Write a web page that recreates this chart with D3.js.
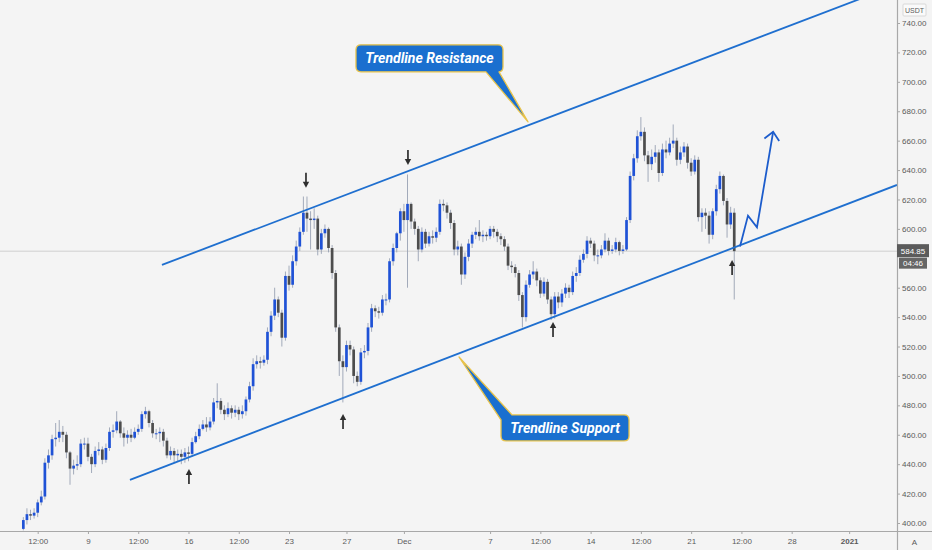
<!DOCTYPE html>
<html>
<head>
<meta charset="utf-8">
<script src="https://cdn.jsdelivr.net/npm/d3@7"></script>
<style>
body { margin: 0; background: #f4f4f4; }
svg { display: block; font-family: "Liberation Sans", Arial, sans-serif; }
</style>
</head>
<body>
<script>
// 6h candles, first one opens Nov 4 12:00 UTC
var candleStart = Date.UTC(2020, 10, 4, 12);
var candleStep = 6 * 3600 * 1000;
var firstOpen = 396;

var closes = [
  402,406,405,407,414,418,441,446,457,458,
  462,460,448,437,439,440,454,454,445,440,
  449,450,443,451,462,463,469,461,458,460,
  458,462,464,474,476,468,461,461,462,456,
  446,449,446,447,445,448,447,455,459,464,
  467,465,469,482,483,477,474,478,475,477,
  474,476,484,493,508,510,509,511,530,541,
  552,543,526,568,562,578,588,598,611,607,
  606,607,586,597,600,587,570,533,510,506,
  521,518,500,496,516,517,533,546,544,543,
  552,552,578,587,597,612,606,617,605,600,
  586,598,590,595,594,598,617,616,611,604,
  586,588,569,581,590,596,598,595,596,595,
  600,598,595,593,588,575,574,570,555,540,
  562,569,571,565,556,564,552,542,554,550,
  556,560,557,568,570,579,583,592,590,582,
  582,586,592,585,586,591,585,586,606,636,
  648,663,666,650,644,649,652,638,654,652,
  658,660,647,652,656,645,639,647,608,611,
  609,596,612,627,636,619,603,611,584.85
];
var highs = [
  404,410,409,410,416,422,444,450,460,468,
  470,466,462,449,443,446,457,458,458,447,
  452,455,452,454,465,467,476,470,465,463,
  464,465,467,476,479,477,470,464,465,464,
  458,452,451,450,450,451,452,458,462,467,
  470,472,472,485,495,485,480,482,480,480,
  479,480,486,496,512,514,513,514,533,544,
  560,554,545,571,575,582,592,601,622,622,
  612,614,609,600,603,601,589,572,535,514,
  524,524,520,503,519,521,536,549,548,547,
  555,556,580,590,598,614,617,637,618,607,
  602,601,600,598,599,601,620,620,618,613,
  606,592,590,584,593,598,601,606,599,598,
  602,602,600,597,595,590,578,576,572,557,
  565,572,578,573,567,567,566,554,557,557,
  559,563,562,571,574,582,586,595,594,592,
  586,589,597,594,589,594,592,589,608,639,
  651,667,676,669,653,654,657,654,658,660,
  662,671,662,656,659,658,648,650,649,614,
  614,612,614,630,639,637,621,615,614
];
var lows = [
  395,399,402,403,404,412,416,437,443,452,
  455,455,444,426,433,436,438,450,442,434,
  438,446,440,441,449,458,461,458,452,454,
  455,457,460,462,471,465,458,457,455,452,
  444,443,441,442,440,441,442,445,454,457,
  463,462,463,467,478,474,470,472,471,472,
  470,471,473,482,490,505,505,507,508,527,
  538,540,520,524,558,560,575,585,596,598,
  586,600,582,583,594,584,566,530,500,482,
  503,514,495,493,494,512,514,530,540,539,
  541,548,550,575,584,592,598,560,600,596,
  578,584,587,588,590,591,596,612,607,600,
  582,582,562,566,578,587,593,592,591,592,
  593,594,591,589,585,572,570,567,551,533,
  537,560,566,561,553,554,549,538,539,546,
  547,553,553,555,564,568,577,580,587,578,
  576,580,584,582,583,584,582,583,585,604,
  633,645,660,646,632,640,645,632,636,648,
  650,655,643,644,649,641,636,637,605,598,
  600,590,593,609,624,616,594,600,552
];

var lastPrice = 584.85;
var lastTimer = "04:46";

// axis ticks (580 sits under the last-price tag, so it is not labelled)
var yTicks = [400,420,440,460,480,500,520,540,560,600,620,640,660,680,700,720,740];
var xTickDates = [
  Date.UTC(2020,10,5,12), Date.UTC(2020,10,9), Date.UTC(2020,10,12,12), Date.UTC(2020,10,16),
  Date.UTC(2020,10,19,12), Date.UTC(2020,10,23), Date.UTC(2020,10,27), Date.UTC(2020,11,1),
  Date.UTC(2020,11,7), Date.UTC(2020,11,10,12), Date.UTC(2020,11,14), Date.UTC(2020,11,17,12),
  Date.UTC(2020,11,21), Date.UTC(2020,11,24,12), Date.UTC(2020,11,28), Date.UTC(2021,0,1)
];
var xTickLabels = ["12:00","9","12:00","16","12:00","23","27","Dec","7","12:00","14","12:00","21","12:00","28","2021"];

// trendlines: [start, end] in time / price
var resistDates = [Date.UTC(2020,10,14,3,40), Date.UTC(2021,0,2,14,20)];
var resistPrices = [575.5, 759.5];
var supportDates = [Date.UTC(2020,10,11,22,10), Date.UTC(2021,0,4,8)];
var supportPrices = [429.3, 629.9];

// projected move
var projDates = [Date.UTC(2020,11,24,9,40), Date.UTC(2020,11,24,23), Date.UTC(2020,11,25,14), Date.UTC(2020,11,26,17)];
var projPrices = [588, 609, 601, 666];

// touch markers (tip position)
var markDates = [Date.UTC(2020,10,24,4,20), Date.UTC(2020,11,1,6,45), Date.UTC(2020,10,16,0,45),
                 Date.UTC(2020,10,26,18,15), Date.UTC(2020,11,11,9,10), Date.UTC(2020,11,23,20,25)];
var markPrices = [627.9, 643.5, 436.7, 474.1, 536.7, 578.9];
var markDirs = ["down","down","up","up","up","up"];

// callouts: tail tip position
var calloutText = ["Trendline Resistance", "Trendline Support"];
var calloutDates = [Date.UTC(2020,11,9,15,20), Date.UTC(2020,11,4,20,5)];
var calloutPrices = [672.8, 512.9];

var w = 932, h = 550, plotW = 897, plotH = 531;

var svg = d3.select("body").append("svg")
  .attr("width", w)
  .attr("height", h);

svg.append("rect").attr("width", w).attr("height", h).attr("fill", "#f4f4f4");

var x = d3.scaleUtc()
  .domain([Date.UTC(2020,10,2,21), Date.UTC(2021,0,4,8)])
  .range([0, plotW]);
var y = d3.scaleLinear()
  .domain([400, 740])
  .range([523, 23]);

svg.append("clipPath").attr("id", "plot")
  .append("rect").attr("width", plotW).attr("height", plotH);

var plot = svg.append("g").attr("clip-path", "url(#plot)");

// last price line
plot.append("line")
  .attr("x1", 0).attr("x2", plotW)
  .attr("y1", y(lastPrice)).attr("y2", y(lastPrice))
  .attr("stroke", "#cfcfcf").attr("stroke-width", 1);

// build candles
var candles = closes.map(function(c, i) {
  return {
    t: candleStart + i * candleStep,
    o: i === 0 ? firstOpen : closes[i - 1],
    h: highs[i], l: lows[i], c: c
  };
});

var bodyW = 2.7;
var upCol = "#1f52d6", downCol = "#4d4d4d";

plot.selectAll(".wick")
  .data(candles)
  .enter()
  .append("line")
  .attr("class", "wick")
  .attr("x1", function(d) { return x(d.t); })
  .attr("x2", function(d) { return x(d.t); })
  .attr("y1", function(d) { return y(d.h); })
  .attr("y2", function(d) { return y(d.l); })
  .attr("stroke", "#98a1b3")
  .attr("stroke-width", 0.9);

plot.selectAll(".body")
  .data(candles)
  .enter()
  .append("rect")
  .attr("class", "body")
  .attr("x", function(d) { return x(d.t) - bodyW / 2; })
  .attr("width", bodyW)
  .attr("y", function(d) { return y(Math.max(d.o, d.c)); })
  .attr("height", function(d) { return Math.max(1, Math.abs(y(d.o) - y(d.c))); })
  .attr("fill", function(d) { return d.c >= d.o ? upCol : downCol; });

// trendlines
var lineCol = "#1f6fcf";
[[resistDates, resistPrices], [supportDates, supportPrices]].forEach(function(tl) {
  plot.append("line")
    .attr("x1", x(tl[0][0])).attr("y1", y(tl[1][0]))
    .attr("x2", x(tl[0][1])).attr("y2", y(tl[1][1]))
    .attr("stroke", lineCol).attr("stroke-width", 1.8);
});

// projected path with arrow head
var projPts = projDates.map(function(d, i) { return [x(d), y(projPrices[i])]; });
plot.append("path")
  .attr("d", d3.line()(projPts))
  .attr("fill", "none").attr("stroke", "#1c5ccc").attr("stroke-width", 1.8)
  .attr("stroke-linejoin", "miter");
var tip = projPts[projPts.length - 1], prev = projPts[projPts.length - 2];
var ang = Math.atan2(tip[1] - prev[1], tip[0] - prev[0]);
var headLen = 11, spread = 0.75;
plot.append("path")
  .attr("d", d3.line()([
    [tip[0] - headLen * Math.cos(ang - spread), tip[1] - headLen * Math.sin(ang - spread)],
    tip,
    [tip[0] - headLen * Math.cos(ang + spread), tip[1] - headLen * Math.sin(ang + spread)]
  ]))
  .attr("fill", "none").attr("stroke", "#1c5ccc").attr("stroke-width", 1.8);

// touch markers
markDates.forEach(function(d, i) {
  var mx = x(d), my = y(markPrices[i]);
  var s = markDirs[i] === "up" ? 1 : -1; // shaft goes down from tip for "up"
  var g = plot.append("g").attr("fill", "#2e2e2e").attr("stroke", "#2e2e2e");
  g.append("line")
    .attr("x1", mx).attr("x2", mx)
    .attr("y1", my + s * 4).attr("y2", my + s * 15)
    .attr("stroke-width", 1.7);
  g.append("path")
    .attr("d", "M" + mx + "," + my + "L" + (mx - 3.2) + "," + (my + s * 6) + "L" + (mx + 3.2) + "," + (my + s * 6) + "Z")
    .attr("stroke", "none");
});

// callouts
var boxes = [
  { dx: -172, dy: -77, bw: 147, bh: 27 },
  { dx: 42, dy: 58, bw: 128, bh: 26 }
];
calloutText.forEach(function(txt, i) {
  var tx = x(calloutDates[i]), ty = y(calloutPrices[i]);
  var b = boxes[i];
  var x0 = tx + b.dx, y0 = ty + b.dy, x1 = x0 + b.bw, y1 = y0 + b.bh, r = 5;
  var p;
  if (i === 0) {
    p = "M" + (x0 + r) + "," + y0 + "H" + (x1 - r) + "Q" + x1 + "," + y0 + " " + x1 + "," + (y0 + r) +
        "V" + (y1 - r) + "Q" + x1 + "," + y1 + " " + (x1 - 4) + "," + y1 +
        "L" + tx + "," + ty + "L" + (x1 - 17) + "," + y1 +
        "H" + (x0 + r) + "Q" + x0 + "," + y1 + " " + x0 + "," + (y1 - r) +
        "V" + (y0 + r) + "Q" + x0 + "," + y0 + " " + (x0 + r) + "," + y0 + "Z";
  } else {
    p = "M" + tx + "," + ty + "L" + (x0 + 11) + "," + y0 +
        "H" + (x1 - r) + "Q" + x1 + "," + y0 + " " + x1 + "," + (y0 + r) +
        "V" + (y1 - r) + "Q" + x1 + "," + y1 + " " + (x1 - r) + "," + y1 +
        "H" + (x0 + r) + "Q" + x0 + "," + y1 + " " + x0 + "," + (y1 - r) +
        "V" + (y0 + 5) + "Z";
  }
  svg.append("path")
    .attr("d", p)
    .attr("fill", "#1a6fcf")
    .attr("stroke", "#e9c34a")
    .attr("stroke-width", 1.3)
    .attr("stroke-linejoin", "round");
  svg.append("text")
    .attr("x", (x0 + x1) / 2)
    .attr("y", (y0 + y1) / 2 + 5)
    .attr("text-anchor", "middle")
    .attr("fill", "#ffffff")
    .style("font-family", "Roboto, 'Open Sans', sans-serif")
    .style("font-size", "14px")
    .style("font-weight", "bold")
    .style("font-style", "italic")
    .text(txt);
});

// axes
var axisCol = "#a8a8a8", textCol = "#5a5a5a";

var yAxis = d3.axisRight(y)
  .tickValues(yTicks)
  .tickSize(3)
  .tickFormat(d3.format(".2f"));
var gy = svg.append("g")
  .attr("transform", "translate(" + plotW + ",0)")
  .call(yAxis);
gy.select(".domain").remove();
gy.selectAll("line").attr("stroke", axisCol);
gy.selectAll("text").attr("fill", textCol).attr("x", 5).style("font-size", "8px");

var xAxis = d3.axisBottom(x)
  .tickValues(xTickDates)
  .tickSize(3)
  .tickFormat(function(d, i) { return xTickLabels[i]; });
var gx = svg.append("g")
  .attr("transform", "translate(0," + plotH + ")")
  .call(xAxis);
gx.select(".domain").remove();
gx.selectAll("line").attr("stroke", axisCol);
gx.selectAll("text").attr("fill", textCol).attr("y", 7).style("font-size", "8px")
  .style("font-weight", function(d, i) { return xTickLabels[i] === "2021" ? "bold" : "normal"; });

svg.append("line")
  .attr("x1", 0).attr("x2", w).attr("y1", plotH + 0.5).attr("y2", plotH + 0.5)
  .attr("stroke", axisCol).attr("stroke-width", 1);
svg.append("line")
  .attr("x1", plotW + 0.5).attr("x2", plotW + 0.5).attr("y1", 0).attr("y2", h)
  .attr("stroke", axisCol).attr("stroke-width", 1.2);

// currency tag
svg.append("rect").attr("x", 903).attr("y", 4).attr("width", 23).attr("height", 12)
  .attr("fill", "#fafafa").attr("stroke", "#d8d8d8").attr("rx", 1);
svg.append("text").attr("x", 914.5).attr("y", 13).attr("text-anchor", "middle")
  .attr("fill", textCol).style("font-size", "7px").text("USDT");

svg.append("text").attr("x", 914.5).attr("y", 545).attr("text-anchor", "middle")
  .attr("fill", textCol).style("font-size", "8px").text("A");

// last price tag + countdown
var ly = y(lastPrice);
svg.append("rect").attr("x", plotW).attr("y", ly - 7).attr("width", 32).attr("height", 13)
  .attr("fill", "#5b5b5b");
svg.append("text").attr("x", plotW + 16).attr("y", ly + 2.5).attr("text-anchor", "middle")
  .attr("fill", "#fff").style("font-size", "8px").text(d3.format(".2f")(lastPrice));
svg.append("rect").attr("x", plotW + 2).attr("y", ly + 6.5).attr("width", 28).attr("height", 11)
  .attr("fill", "#666");
svg.append("text").attr("x", plotW + 16).attr("y", ly + 15).attr("text-anchor", "middle")
  .attr("fill", "#fff").style("font-size", "8px").text(lastTimer);
</script>
</body>
</html>
